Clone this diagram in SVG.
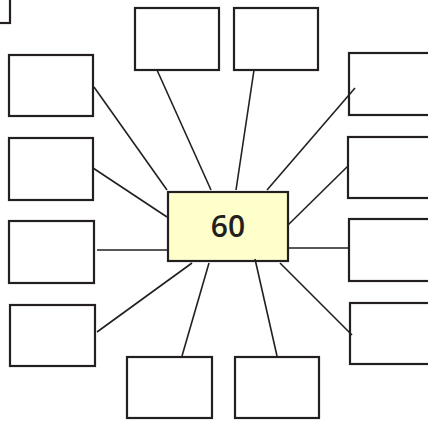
<svg xmlns="http://www.w3.org/2000/svg" width="428" height="422" viewBox="0 0 428 422">
  <style>
    .box { fill: #ffffff; stroke: #231f20; stroke-width: 2.2; }
    .hub { fill: #ffffcc; stroke: #231f20; stroke-width: 2.2; }
    .link { stroke: #231f20; stroke-width: 1.6; fill: none; stroke-linecap: butt; }
    .num { font-family: "Open Sans", "DejaVu Sans", sans-serif; font-weight: 600; font-size: 30px; fill: #231f20; text-anchor: middle; }
  </style>
  <rect width="428" height="422" fill="#ffffff"/>

  <g id="corner-box"><rect class="box" x="-80" y="-40" width="90" height="63"/></g>

  <g id="left-1"><rect class="box" x="9" y="55" width="84" height="61"/></g>
  <g id="left-2"><rect class="box" x="9" y="138" width="84" height="62"/></g>
  <g id="left-3"><rect class="box" x="9" y="221" width="85" height="62"/></g>
  <g id="left-4"><rect class="box" x="10" y="305" width="85" height="61"/></g>

  <g id="top-1"><rect class="box" x="135" y="8" width="84" height="62"/></g>
  <g id="top-2"><rect class="box" x="234" y="8" width="84" height="62"/></g>

  <g id="right-1"><rect class="box" x="349" y="53" width="84" height="62"/></g>
  <g id="right-2"><rect class="box" x="348" y="137" width="85" height="61"/></g>
  <g id="right-3"><rect class="box" x="349" y="219" width="84" height="62"/></g>
  <g id="right-4"><rect class="box" x="350" y="303" width="84" height="61"/></g>

  <g id="bottom-1"><rect class="box" x="127" y="357" width="85" height="61"/></g>
  <g id="bottom-2"><rect class="box" x="235" y="357" width="84" height="61"/></g>

  <g id="hub">
    <rect class="hub" x="168" y="192" width="120" height="69"/>
    <text class="num" x="228" y="237">60</text>
  </g>

  <!-- spokes are drawn last so their ends show over the box edges -->
  <g id="connectors">
    <line class="link" x1="94" y1="87" x2="167" y2="190"/>
    <line class="link" x1="93" y1="168" x2="167" y2="217"/>
    <line class="link" x1="97" y1="250" x2="168" y2="250"/>
    <line class="link" x1="97" y1="332" x2="192" y2="263"/>
    <line class="link" x1="182" y1="356" x2="209" y2="263"/>
    <line class="link" x1="277" y1="356" x2="255" y2="259"/>
    <line class="link" x1="280" y1="263" x2="352" y2="335"/>
    <line class="link" x1="288" y1="248" x2="349" y2="248"/>
    <line class="link" x1="288" y1="225" x2="348" y2="166"/>
    <line class="link" x1="267" y1="190" x2="355" y2="88"/>
    <line class="link" x1="157" y1="70" x2="211" y2="190"/>
    <line class="link" x1="254" y1="70" x2="236" y2="190"/>
  </g>
</svg>
